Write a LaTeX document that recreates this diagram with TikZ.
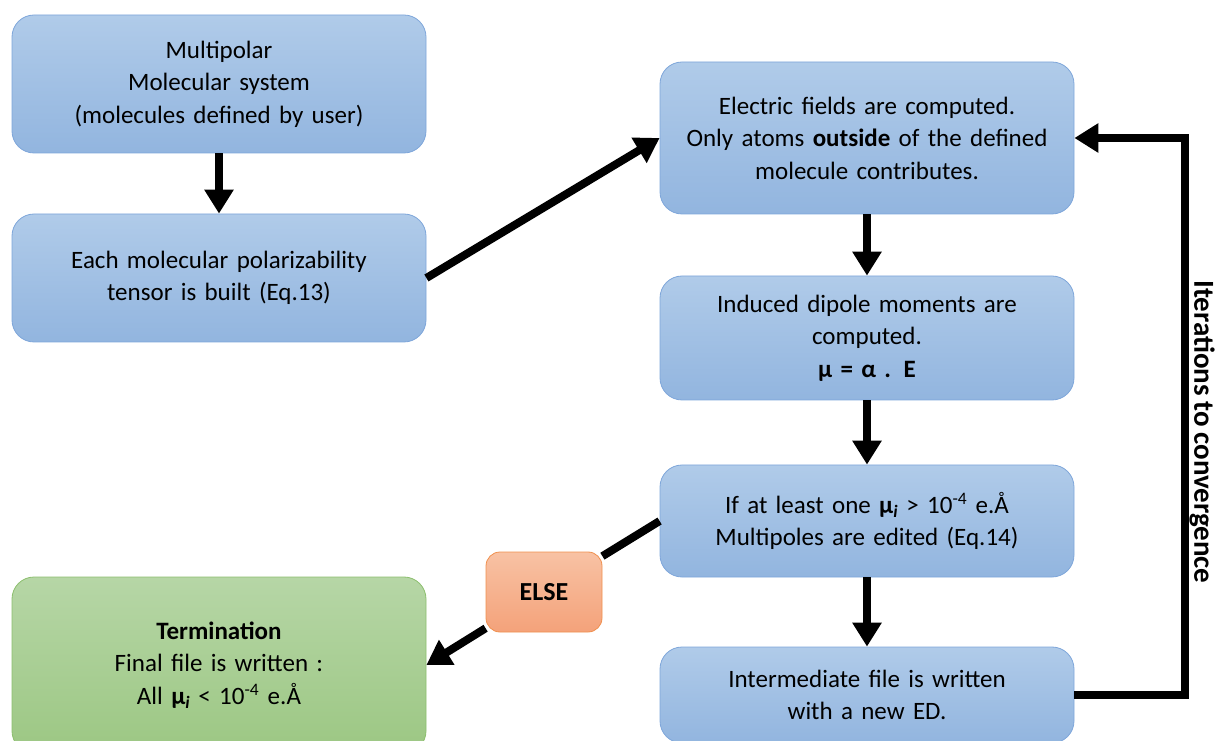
\documentclass[tikz,border=0pt]{standalone}
\usepackage{fontspec}
\setmainfont[WordSpace=0.85]{Carlito}
\usetikzlibrary{arrows.meta,positioning}
\definecolor{blueline}{HTML}{7EA6DA}
\definecolor{bluetop}{HTML}{B0CBE9}
\definecolor{bluebot}{HTML}{92B5DF}
\definecolor{greenline}{HTML}{8CBF6E}
\definecolor{greentop}{HTML}{B6D6A6}
\definecolor{greenbot}{HTML}{9CC783}
\definecolor{elseline}{HTML}{F0904E}
\definecolor{elsetop}{HTML}{F8C2A4}
\definecolor{elsebot}{HTML}{F4A27A}
\newcommand{\mui}{\textbf{μ}\textsubscript{\textbf{\textit{i}}}}

\begin{document}
\begin{tikzpicture}[x=1pt,y=1pt,
			box/.style={draw=blueline,line width=0.8pt,rounded corners=22pt,top color=bluetop,bottom color=bluebot,
			minimum width=414pt,text width=404pt,align=center,font=\fontsize{25}{32.5}\selectfont},
			endbox/.style={box,draw=greenline,top color=greentop,bottom color=greenbot},
			elsebox/.style={draw=elseline,line width=0.8pt,rounded corners=14pt,top color=elsetop,bottom color=elsebot,
			minimum width=116pt,minimum height=80pt,font=\fontsize{26}{30}\selectfont\bfseries},
			flow/.style={line width=8pt,-{Triangle[length=24pt,width=28pt]}}]
			\useasboundingbox (0,0) rectangle (1216,740);
			% left column
			\node (molsys) [box,minimum height=138pt] at (219,656)
				{Multipolar\\ Molecular system\\ (molecules defined by user)};
			\node (tensor) [box,minimum height=128pt] at (219,462)
				{Each molecular polarizability\\ tensor is built (Eq.13)};
			\node (term) [endbox,minimum height=176pt] at (219,75)
				{\textbf{Termination}\\ Final file is written :\\ All \mui{} < 10\textsuperscript{-4} e.Å};
			% right column
			\node (field) [box,minimum height=152pt] at (867,602)
				{Electric fields are computed.\\ Only atoms \textbf{outside} of the defined\\ molecule contributes.};
			\node (dipole) [box,minimum height=124pt] at (867,402)
				{Induced dipole moments are\\ computed.\\ \textbf{μ = α . E}};
			\node (edit) [box,minimum height=112pt] at (867,219)
				{If at least one \mui{} > 10\textsuperscript{-4} e.Å\\ Multipoles are edited (Eq.14)};
			\node (inter) [box,minimum height=96pt] at (867,45)
				{Intermediate file is written\\ with a new ED.};
			\node (else) [elsebox] at (544,148) {ELSE};
			\coordinate (loopa) at (1185,45);
			\coordinate (loopb) at (1185,602);
			\node (iter) [rotate=-90,inner sep=0pt,font=\fontsize{29}{34}\selectfont\bfseries] at (1202,308) {Iterations to convergence};

			\draw [flow] (molsys) -- (tensor);
			\draw [flow] (tensor.east) -- (field.west);
			\draw [flow] (field) -- (dipole);
			\draw [flow] (dipole) -- (edit);
			\draw [flow] (edit) -- (inter);
			\draw [line width=8pt] (edit.west) -- (else);
			\draw [flow] (else) -- (term.east);
			\draw [flow] (inter.east) -- (loopa) -- (loopb) -- (field.east);
		\end{tikzpicture}
\end{document}
